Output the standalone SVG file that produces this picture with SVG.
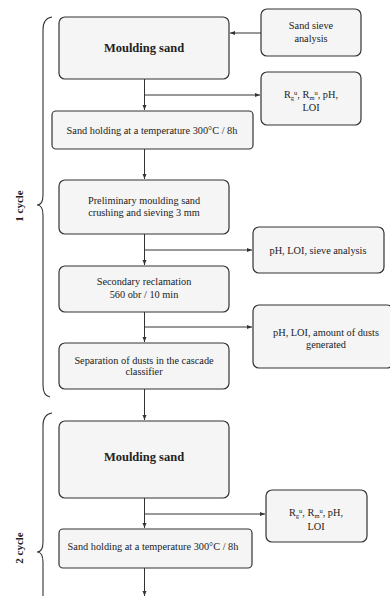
<svg xmlns="http://www.w3.org/2000/svg" width="390" height="596" viewBox="0 0 390 596">
<style>
.box{fill:#f5f5f5;stroke:#333;stroke-width:1.2}
.t{font-family:"Liberation Serif",serif;font-size:10.3px;fill:#222;text-anchor:middle}
.b{font-family:"Liberation Serif",serif;font-size:12.5px;font-weight:bold;fill:#222;text-anchor:middle}
.c{font-family:"Liberation Serif",serif;font-size:11px;font-weight:bold;fill:#222;text-anchor:middle}
.ln{fill:none;stroke:#333;stroke-width:1}
.br{fill:none;stroke:#333;stroke-width:1.1}
</style>
<defs>
<marker id="ar" viewBox="0 0 10 10" refX="10" refY="5" markerWidth="5" markerHeight="5" orient="auto">
<path d="M0,1 L10,5 L0,9 z" fill="#333"/>
</marker>
</defs>
<rect width="390" height="596" fill="#fff"/>
<g id="connectors">
<path class="ln" d="M261,33 H230" marker-end="url(#ar)"/>
<path class="ln" d="M144.5,79 V110" marker-end="url(#ar)"/>
<path class="ln" d="M144.5,95 H260" marker-end="url(#ar)"/>
<path class="ln" d="M144.5,149 V179" marker-end="url(#ar)"/>
<path class="ln" d="M144.5,234 V265" marker-end="url(#ar)"/>
<path class="ln" d="M144.5,250 H252" marker-end="url(#ar)"/>
<path class="ln" d="M144.5,312 V342" marker-end="url(#ar)"/>
<path class="ln" d="M144.5,327 H252" marker-end="url(#ar)"/>
<path class="ln" d="M144.5,389 V420" marker-end="url(#ar)"/>
<path class="ln" d="M144.5,498 V528" marker-end="url(#ar)"/>
<path class="ln" d="M144.5,514 H265" marker-end="url(#ar)"/>
<path class="ln" d="M144.5,568 V596" marker-end="url(#ar)"/>
</g>
<g id="brace1">
<path class="br" d="M52,17 Q43,18 43,30 V195 Q43,205 37,205 Q43,205 43,215 V385 Q43,396 50,397"/>
<text class="c" transform="translate(23,206) rotate(-90)">1 cycle</text>
</g>
<g id="brace2">
<path class="br" d="M52,413 Q43,414 43,426 V542 Q43,552 37,552 Q43,552 43,562 V600"/>
<text class="c" transform="translate(23,548) rotate(-90)">2 cycle</text>
</g>
<g id="n1"><rect class="box" x="59" y="17" width="170" height="62" rx="6"/><text class="b" x="144" y="52">Moulding sand</text></g>
<g id="n2"><rect class="box" x="261" y="9" width="100" height="47" rx="6"/><text class="t" x="311" y="29">Sand sieve</text><text class="t" x="311" y="42">analysis</text></g>
<g id="n3"><rect class="box" x="261" y="72" width="100" height="53" rx="6"/><text class="t" x="311" y="98">R<tspan font-size="6.5" dy="2">g</tspan><tspan font-size="6.5" dy="-5">u</tspan><tspan dy="3">, R</tspan><tspan font-size="6.5" dy="2">m</tspan><tspan font-size="6.5" dy="-5">u</tspan><tspan dy="3">, pH,</tspan></text><text class="t" x="311" y="111">LOI</text></g>
<g id="n4"><rect class="box" x="52" y="111" width="201" height="38" rx="4"/><text class="t" x="152" y="134">Sand holding at a temperature 300°C / 8h</text></g>
<g id="n5"><rect class="box" x="59" y="180" width="170" height="54" rx="6"/><text class="t" x="144" y="204">Preliminary moulding sand</text><text class="t" x="144" y="216">crushing and sieving 3 mm</text></g>
<g id="n6"><rect class="box" x="253" y="227" width="131" height="46" rx="6"/><text class="t" x="318" y="254">pH, LOI, sieve analysis</text></g>
<g id="n7"><rect class="box" x="59" y="266" width="170" height="46" rx="6"/><text class="t" x="144" y="285">Secondary reclamation</text><text class="t" x="144" y="298">560 obr / 10 min</text></g>
<g id="n8"><rect class="box" x="253" y="305" width="140" height="63" rx="6"/><text class="t" x="326" y="336">pH, LOI, amount of dusts</text><text class="t" x="326" y="348">generated</text></g>
<g id="n9"><rect class="box" x="59" y="343" width="170" height="46" rx="6"/><text class="t" x="144" y="364">Separation of dusts in the cascade</text><text class="t" x="144" y="375">classifier</text></g>
<g id="n10"><rect class="box" x="59" y="421" width="170" height="77" rx="6"/><text class="b" x="144" y="461">Moulding sand</text></g>
<g id="n11"><rect class="box" x="266" y="490" width="101" height="52" rx="6"/><text class="t" x="316" y="516">R<tspan font-size="6.5" dy="2">g</tspan><tspan font-size="6.5" dy="-5">u</tspan><tspan dy="3">, R</tspan><tspan font-size="6.5" dy="2">m</tspan><tspan font-size="6.5" dy="-5">u</tspan><tspan dy="3">, pH,</tspan></text><text class="t" x="316" y="530">LOI</text></g>
<g id="n12"><rect class="box" x="59" y="529" width="193" height="39" rx="4"/><text class="t" x="153" y="550">Sand holding at a temperature 300°C / 8h</text></g>
</svg>
